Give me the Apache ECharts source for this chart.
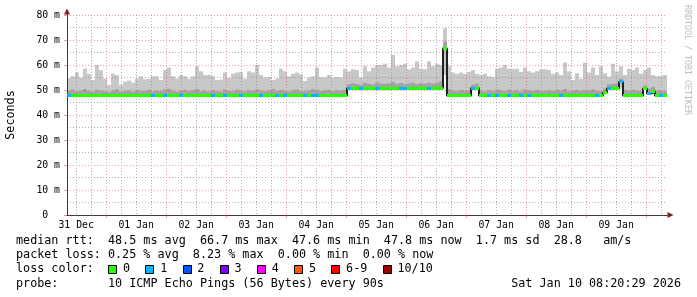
<!DOCTYPE html>
<html><head><meta charset="utf-8">
<script src="https://cdn.jsdelivr.net/npm/echarts@6/dist/echarts.min.js"></script>
<style>html,body{margin:0;padding:0;background:#fff}#c{width:697px;height:297px}</style>
</head><body><div id="c"></div>
<script>
// time axis in hours since 31 Dec 00:00 (range 31 Dec 08:20:29 .. 10 Jan 08:20:29)
const START_HOUR = 8.3414;
const END_HOUR = 248.3414;
const BIN_HOURS = 1.6;
const DAY_LABELS = ['31 Dec','01 Jan','02 Jan','03 Jan','04 Jan','05 Jan','06 Jan','07 Jan','08 Jan','09 Jan'];
const LABEL_HOURS = [12,36,60,84,108,132,156,180,204,228];
const MIDNIGHT_HOURS = [24,48,72,96,120,144,168,192,216,240];
const SIX_HOUR_TICKS = [12,18,30,36,42,54,60,66,78,84,90,102,108,114,126,132,138,150,156,162,174,180,186,198,204,210,222,228,234,246];
const Y_MIN = 0, Y_MAX = 80, Y_STEP = 10;

// median rtt (ms) per 1.6 h bin
const MEDIAN = [
47.7,47.7,47.7,47.7,47.7,47.7,47.7,47.7,47.7,47.7,
47.7,47.7,47.7,47.7,47.7,47.7,47.7,47.7,47.7,47.7,
47.7,47.7,47.7,47.7,47.7,47.7,47.7,47.7,47.7,47.7,
47.7,47.7,47.7,47.7,47.7,47.7,47.7,47.7,47.7,47.7,
47.7,47.7,47.7,47.7,47.7,47.7,47.7,47.7,47.7,47.7,
47.7,47.7,47.7,47.7,47.7,47.7,47.7,47.7,47.7,47.7,
47.7,47.7,47.7,47.7,47.7,47.7,47.7,47.7,47.7,47.7,
50.7,50.7,50.7,50.7,50.7,50.7,50.7,50.7,50.7,50.7,
50.7,50.7,50.7,50.7,50.7,50.7,50.7,50.7,50.7,50.7,
50.7,50.7,50.7,50.7,66.7,47.7,47.7,47.7,47.7,47.7,
47.7,50.8,50.8,47.7,47.7,47.7,47.7,47.7,47.7,47.7,
47.7,47.7,47.7,47.7,47.7,47.7,47.7,47.7,47.7,47.7,
47.7,47.7,47.7,47.7,47.7,47.7,47.7,47.7,47.7,47.7,
47.7,47.7,47.7,47.7,49.0,50.7,50.7,50.7,53.3,47.7,
47.7,47.7,47.7,47.7,50.6,48.6,49.4,47.7,47.7,47.7];
// lost pings (of 10) per bin
const LOSS = [
1,0,0,0,0,0,0,0,0,0,
0,0,0,0,0,0,0,0,0,0,
0,1,0,0,1,0,0,0,1,0,
0,0,0,0,0,0,1,0,0,1,
0,0,0,1,0,0,0,0,1,0,
0,0,1,0,1,0,0,0,0,1,
0,1,1,0,0,0,0,0,0,0,
1,0,0,1,0,0,0,1,0,0,
0,0,0,1,1,0,0,0,0,0,
1,0,0,0,0,0,0,0,0,0,
0,1,0,0,0,1,0,1,0,0,
1,0,0,1,0,1,0,0,0,0,
0,0,0,1,0,0,0,0,0,0,
0,0,1,0,0,1,0,0,1,0,
0,0,0,0,0,1,0,0,1,0];
// smoke: lowest ping, top of dense band, highest ping (ms)
const SMOKE_MIN = [
47.4,47.4,47.4,47.4,47.4,47.4,47.4,47.4,47.4,47.4,
47.4,47.4,47.4,47.4,47.4,47.4,47.4,47.4,47.4,47.4,
47.4,47.4,47.4,47.4,47.4,47.4,47.4,47.4,47.4,47.4,
47.4,47.4,47.4,47.4,47.4,47.4,47.4,47.4,47.4,47.4,
47.4,47.4,47.4,47.4,47.4,47.4,47.4,47.4,47.4,47.4,
47.4,47.4,47.4,47.4,47.4,47.4,47.4,47.4,47.4,47.4,
47.4,47.4,47.4,47.4,47.4,47.4,47.4,47.4,47.4,47.4,
50.4,50.4,50.4,50.4,50.4,50.4,50.4,50.4,50.4,50.4,
50.4,50.4,50.4,50.4,50.4,50.4,50.4,50.4,50.4,50.4,
50.4,50.4,50.4,50.4,56.0,47.4,47.4,47.4,47.4,47.4,
47.4,50.5,50.5,47.4,47.4,47.4,47.4,47.4,47.4,47.4,
47.4,47.4,47.4,47.4,47.4,47.4,47.4,47.4,47.4,47.4,
47.4,47.4,47.4,47.4,47.4,47.4,47.4,47.4,47.4,47.4,
47.4,47.4,47.4,47.4,48.7,50.4,50.4,50.4,50.5,47.4,
47.4,47.4,47.4,47.4,50.3,48.3,49.1,47.4,47.4,47.4];
const SMOKE_MID = [
49.8,50.2,49.5,49.9,50.4,49.6,49.3,50.1,49.7,49.5,
49.2,49.8,50.3,49.4,49.6,49.9,49.3,50.0,49.5,49.7,
50.1,49.4,49.8,49.6,50.2,50.5,49.7,49.3,49.8,50.0,
49.6,49.9,50.4,49.5,49.8,49.3,50.0,49.6,49.4,50.2,
49.7,49.5,50.1,49.8,49.4,50.0,49.6,50.3,49.8,49.5,
49.9,50.4,49.6,50.0,49.7,49.4,49.9,50.2,49.6,49.5,
49.8,50.3,50.1,49.6,49.9,50.0,49.5,49.8,49.7,50.2,
52.3,52.8,52.4,52.0,52.9,52.5,52.2,53.0,52.6,52.4,
52.7,53.2,52.5,52.8,52.3,52.6,53.0,52.4,52.7,52.5,
52.9,52.6,52.8,53.5,69.3,50.3,49.8,49.5,50.0,49.6,
49.9,52.2,52.5,49.7,49.4,50.0,49.6,50.2,49.8,49.5,
50.1,49.7,49.9,49.4,50.3,49.8,49.6,50.0,49.7,49.5,
49.9,49.6,50.2,49.8,50.4,49.5,49.7,50.0,49.6,49.9,
49.8,50.2,49.7,49.5,50.6,52.3,52.5,52.7,54.5,50.0,
49.6,50.1,49.8,49.5,51.8,50.6,51.3,49.7,49.9,49.6];
const SMOKE_MAX = [
54.7,55.5,57.0,55.0,58.5,56.5,54.0,60.0,58.0,54.5,
52.0,56.5,56.0,52.0,53.3,53.8,53.0,54.5,55.5,54.3,
54.5,55.5,55.5,54.0,58.0,59.0,55.5,54.6,56.0,55.5,
54.5,55.5,59.5,57.5,56.0,56.0,55.5,54.0,54.2,57.0,
54.8,56.5,57.0,57.3,54.5,57.5,57.0,60.0,56.0,55.0,
55.2,54.0,54.6,58.5,57.5,55.5,56.5,57.0,56.3,53.6,
55.0,55.5,59.0,55.2,55.0,56.0,54.8,55.2,55.0,58.5,
57.5,58.3,58.0,55.0,59.5,57.5,59.0,60.0,60.0,60.5,
59.0,64.0,59.5,60.0,60.5,58.3,59.0,61.5,58.5,58.3,
61.5,59.5,60.5,60.0,74.7,59.5,57.0,56.5,57.0,56.5,
57.3,58.0,56.5,56.0,56.5,55.5,55.2,58.5,59.0,60.0,
58.5,58.3,58.5,57.2,59.0,57.5,57.0,57.5,58.3,58.3,
58.0,56.5,57.0,56.0,61.0,57.5,54.0,56.7,54.5,61.0,
57.0,59.0,56.0,59.5,56.7,55.3,60.5,57.5,59.5,56.0,
58.5,58.0,59.0,56.5,58.0,59.0,56.0,55.5,55.5,56.0];

const LOSS_LABELS = ['0','1','2','3','4','5','6-9','10/10'];
const LOSS_COLORS = ['#26ff00','#00b8ff','#0059ff','#7e00ff','#ff00ff','#ff5500','#ff0000','#a10000'];
const RTT_STATS = ['48.5 ms avg','66.7 ms max','47.6 ms min','47.8 ms now','1.7 ms sd','28.8   am/s'];
const LOSS_STATS = ['0.25 % avg','8.23 % max','0.00 % min','0.00 % now'];
const PROBE_TEXT = '10 ICMP Echo Pings (56 Bytes) every 90s';
const DATE_TEXT = 'Sat Jan 10 08:20:29 2026';

const FONT = 'DejaVu Sans Mono';
const MGRID = 'rgba(222,79,79,0.55)';
const GRID = 'rgba(143,143,143,0.7)';
const LEG_FS = 11.76;

const binStart = i => START_HOUR + i * BIN_HOURS;
const smokeData = SMOKE_MAX.map((mx, i) => [binStart(i), binStart(i + 1), SMOKE_MIN[i], MEDIAN[i], SMOKE_MID[i], mx]);
const medianData = MEDIAN.map((m, i) => [binStart(i), binStart(i + 1), m, LOSS[i]]);
const stepData = MEDIAN.map((m, i) => [binStart(i), m]).concat([[binStart(MEDIAN.length), MEDIAN[MEDIAN.length - 1]]]);

function renderSmoke(params, api) {
  const lo = api.coord([api.value(0), api.value(2)]);
  const med = api.coord([api.value(0), api.value(3)]);
  const mid = api.coord([api.value(1), api.value(4)]);
  const hi = api.coord([api.value(1), api.value(5)]);
  const x0 = Math.round(lo[0]), x1 = Math.round(hi[0]);
  return {type: 'group', children: [
    {type: 'rect', shape: {x: x0, y: hi[1], width: x1 - x0, height: lo[1] - hi[1]}, style: {fill: '#c8c8c8'}},
    {type: 'rect', shape: {x: x0, y: mid[1], width: x1 - x0, height: med[1] - mid[1]}, style: {fill: '#a3a3a3'}}
  ]};
}
function renderMedian(params, api) {
  const a = api.coord([api.value(0), api.value(2)]);
  const b = api.coord([api.value(1), api.value(2)]);
  const x0 = Math.round(a[0]), x1 = Math.round(b[0]);
  return {type: 'rect', shape: {x: x0, y: Math.round(a[1] - 1.5), width: x1 - x0, height: 3},
          style: {fill: LOSS_COLORS[api.value(3)]}};
}

const txt = (x, y, text, extra) => Object.assign({type: 'text', x: x, y: y, z: 10,
  style: Object.assign({text: text, fontFamily: FONT, fontSize: LEG_FS, fill: '#000', verticalAlign: 'middle'}, extra || {})});

const graphics = [
  txt(16, 241, 'median rtt:  ' + RTT_STATS.join('  ')),
  txt(16, 255, 'packet loss: ' + LOSS_STATS.join('  ')),
  txt(16, 269, 'loss color:'),
  txt(16, 283.5, 'probe:       ' + PROBE_TEXT),
  txt(681, 283.5, DATE_TEXT, {align: 'right'}),
  {type: 'text', x: 687.5, y: 5, rotation: -Math.PI / 2, z: 10,
   style: {text: 'RRDTOOL / TOBI OETIKER', fontFamily: FONT, fontSize: 8.3, fill: '#bdbdbd', verticalAlign: 'middle'}}
];
let sx = 108.3;
LOSS_LABELS.forEach((lab, k) => {
  graphics.push({type: 'rect', z: 10, shape: {x: Math.round(sx) + 0.5, y: 265.5, width: 8, height: 8},
    style: {fill: LOSS_COLORS[k], stroke: '#000', lineWidth: 1}});
  graphics.push(txt(sx + 14.7, 269, lab));
  sx += 30.1 + 7.08 * lab.length;
});

const chart = echarts.init(document.getElementById('c'), null, {renderer: 'canvas'});
chart.setOption({
  animation: false,
  backgroundColor: '#ffffff',
  grid: {left: 67, top: 15, width: 600, height: 200, containLabel: false, outerBoundsMode: 'none'},
  xAxis: [
    {type: 'value', min: START_HOUR, max: END_HOUR, z: 4,
     axisLine: {show: true, lineStyle: {color: '#3a3a3a', width: 1}},
     axisTick: {show: false, customValues: SIX_HOUR_TICKS},
     splitLine: {show: true, lineStyle: {color: GRID, type: [1, 2], width: 1}},
     axisLabel: {customValues: LABEL_HOURS, formatter: v => DAY_LABELS[LABEL_HOURS.indexOf(Math.round(v))],
                 fontFamily: FONT, fontSize: 9.8, color: '#000', margin: 5}},
    {type: 'value', min: START_HOUR, max: END_HOUR, z: 3, position: 'bottom',
     axisLine: {show: true, lineStyle: {color: '#801f1f', width: 1}, symbol: ['none', 'triangle'], symbolSize: [6, 6], symbolOffset: [0, 3.5]},
     axisTick: {show: true, customValues: MIDNIGHT_HOURS, length: 3, lineStyle: {color: MGRID}},
     splitLine: {show: true, lineStyle: {color: MGRID, type: [1, 2], width: 1}},
     axisLabel: {show: false}}
  ],
  yAxis: [
    {type: 'value', min: Y_MIN, max: Y_MAX, interval: Y_STEP, z: 4,
     name: 'Seconds', nameLocation: 'middle', nameRotate: 90, nameGap: 50,
     nameTextStyle: {fontFamily: FONT, fontSize: LEG_FS, color: '#000'},
     axisLine: {show: true, lineStyle: {color: '#3a3a3a', width: 1}},
     axisTick: {show: true, length: 3, lineStyle: {color: MGRID}},
     splitLine: {show: true, lineStyle: {color: MGRID, type: [1, 2], width: 1}},
     minorTick: {show: false, splitNumber: 2},
     minorSplitLine: {show: true, lineStyle: {color: GRID, type: [1, 2], width: 1}},
     axisLabel: {formatter: v => v === 0 ? '0  ' : v + ' m', fontFamily: FONT, fontSize: 9.8, color: '#000', margin: 7}},
    {type: 'value', min: Y_MIN, max: Y_MAX, z: 3, position: 'left',
     axisLine: {show: true, lineStyle: {color: '#801f1f', width: 1}, symbol: ['none', 'triangle'], symbolSize: [6, 6], symbolOffset: [0, 3.5]},
     axisTick: {show: false}, splitLine: {show: false}, axisLabel: {show: false}}
  ],
  series: [
    {type: 'custom', name: 'smoke', z: 1, silent: true, renderItem: renderSmoke, data: smokeData,
     encode: {x: [0, 1], y: [2, 3, 4, 5]}},
    {type: 'line', name: 'median-step', z: 5, silent: true, data: stepData, step: 'end', symbol: 'none',
     lineStyle: {color: '#202020', width: 2}},
    {type: 'custom', name: 'median', z: 6, silent: true, renderItem: renderMedian, data: medianData,
     encode: {x: [0, 1], y: 2}}
  ],
  graphic: graphics
});
</script></body></html>
